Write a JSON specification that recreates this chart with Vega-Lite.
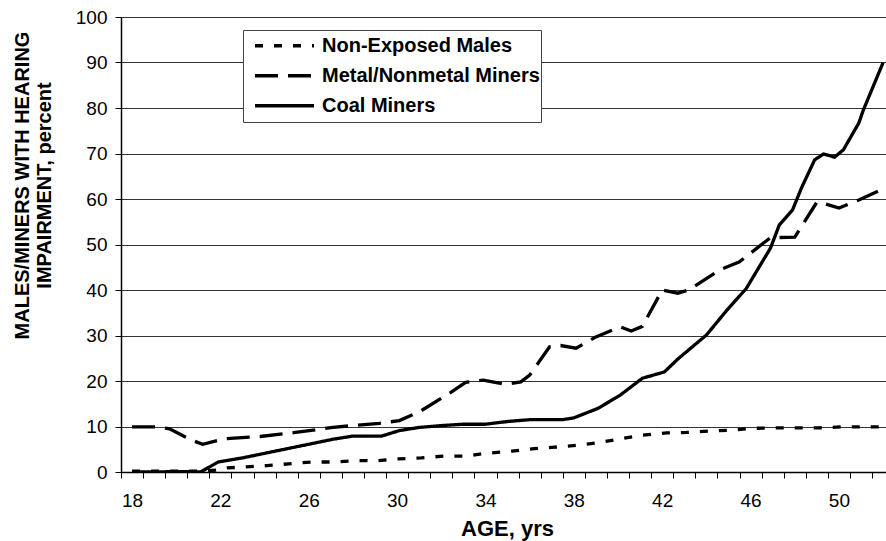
{
  "$schema": "https://vega.github.io/schema/vega-lite/v6.json",
  "autosize": {"type": "none"},
  "padding": {"left": 121, "top": 17, "right": 0, "bottom": 69},
  "width": 765,
  "height": 455,
  "background": "white",
  "config": {
    "view": {"stroke": null},
    "font": "Liberation Sans"
  },
  "data": {
    "values": [
      {"series": "Non-Exposed Males", "age": 18, "pct": 0.2},
      {"series": "Non-Exposed Males", "age": 19, "pct": 0.2},
      {"series": "Non-Exposed Males", "age": 20, "pct": 0.2},
      {"series": "Non-Exposed Males", "age": 21, "pct": 0.2},
      {"series": "Non-Exposed Males", "age": 21.8, "pct": 0.4},
      {"series": "Non-Exposed Males", "age": 22.3, "pct": 0.9},
      {"series": "Non-Exposed Males", "age": 23.1, "pct": 1.1},
      {"series": "Non-Exposed Males", "age": 24.1, "pct": 1.4},
      {"series": "Non-Exposed Males", "age": 25.1, "pct": 1.8},
      {"series": "Non-Exposed Males", "age": 26.1, "pct": 2.2},
      {"series": "Non-Exposed Males", "age": 27.1, "pct": 2.2},
      {"series": "Non-Exposed Males", "age": 28.1, "pct": 2.5},
      {"series": "Non-Exposed Males", "age": 29.1, "pct": 2.5},
      {"series": "Non-Exposed Males", "age": 30.1, "pct": 2.9},
      {"series": "Non-Exposed Males", "age": 31.1, "pct": 3.1},
      {"series": "Non-Exposed Males", "age": 32.1, "pct": 3.5},
      {"series": "Non-Exposed Males", "age": 33.1, "pct": 3.5},
      {"series": "Non-Exposed Males", "age": 34, "pct": 4.1},
      {"series": "Non-Exposed Males", "age": 35.2, "pct": 4.6},
      {"series": "Non-Exposed Males", "age": 36.1, "pct": 5.1},
      {"series": "Non-Exposed Males", "age": 37, "pct": 5.4},
      {"series": "Non-Exposed Males", "age": 38.2, "pct": 5.9},
      {"series": "Non-Exposed Males", "age": 39.2, "pct": 6.5},
      {"series": "Non-Exposed Males", "age": 40.2, "pct": 7.4},
      {"series": "Non-Exposed Males", "age": 41.1, "pct": 8.1},
      {"series": "Non-Exposed Males", "age": 42.2, "pct": 8.6},
      {"series": "Non-Exposed Males", "age": 43.1, "pct": 8.7},
      {"series": "Non-Exposed Males", "age": 44.2, "pct": 9.0},
      {"series": "Non-Exposed Males", "age": 45.2, "pct": 9.2},
      {"series": "Non-Exposed Males", "age": 46.1, "pct": 9.6},
      {"series": "Non-Exposed Males", "age": 47.2, "pct": 9.7},
      {"series": "Non-Exposed Males", "age": 49.1, "pct": 9.7},
      {"series": "Non-Exposed Males", "age": 50.1, "pct": 9.9},
      {"series": "Non-Exposed Males", "age": 52, "pct": 9.9},
      {"series": "Metal/Nonmetal Miners", "age": 18, "pct": 9.9},
      {"series": "Metal/Nonmetal Miners", "age": 19.1, "pct": 9.9},
      {"series": "Metal/Nonmetal Miners", "age": 19.7, "pct": 9.5},
      {"series": "Metal/Nonmetal Miners", "age": 20.7, "pct": 7.0},
      {"series": "Metal/Nonmetal Miners", "age": 21.2, "pct": 6.1},
      {"series": "Metal/Nonmetal Miners", "age": 22.2, "pct": 7.3},
      {"series": "Metal/Nonmetal Miners", "age": 22.8, "pct": 7.5},
      {"series": "Metal/Nonmetal Miners", "age": 23.8, "pct": 7.8},
      {"series": "Metal/Nonmetal Miners", "age": 25.4, "pct": 8.7},
      {"series": "Metal/Nonmetal Miners", "age": 27.1, "pct": 9.8},
      {"series": "Metal/Nonmetal Miners", "age": 28.2, "pct": 10.3},
      {"series": "Metal/Nonmetal Miners", "age": 29.2, "pct": 10.7},
      {"series": "Metal/Nonmetal Miners", "age": 30.1, "pct": 11.3},
      {"series": "Metal/Nonmetal Miners", "age": 31, "pct": 13.2},
      {"series": "Metal/Nonmetal Miners", "age": 32.4, "pct": 17.4},
      {"series": "Metal/Nonmetal Miners", "age": 33.1, "pct": 19.7},
      {"series": "Metal/Nonmetal Miners", "age": 33.9, "pct": 20.2},
      {"series": "Metal/Nonmetal Miners", "age": 34.9, "pct": 19.3},
      {"series": "Metal/Nonmetal Miners", "age": 35.6, "pct": 19.8},
      {"series": "Metal/Nonmetal Miners", "age": 36, "pct": 21.3},
      {"series": "Metal/Nonmetal Miners", "age": 36.9, "pct": 27.5},
      {"series": "Metal/Nonmetal Miners", "age": 37.4, "pct": 27.8},
      {"series": "Metal/Nonmetal Miners", "age": 38.1, "pct": 27.2},
      {"series": "Metal/Nonmetal Miners", "age": 39, "pct": 29.7},
      {"series": "Metal/Nonmetal Miners", "age": 40.1, "pct": 31.9},
      {"series": "Metal/Nonmetal Miners", "age": 40.6, "pct": 31.0},
      {"series": "Metal/Nonmetal Miners", "age": 41.1, "pct": 32.0},
      {"series": "Metal/Nonmetal Miners", "age": 42, "pct": 40.0},
      {"series": "Metal/Nonmetal Miners", "age": 42.7, "pct": 39.3},
      {"series": "Metal/Nonmetal Miners", "age": 43.2, "pct": 40.0},
      {"series": "Metal/Nonmetal Miners", "age": 44.6, "pct": 44.4},
      {"series": "Metal/Nonmetal Miners", "age": 45.5, "pct": 46.2},
      {"series": "Metal/Nonmetal Miners", "age": 46.9, "pct": 51.5},
      {"series": "Metal/Nonmetal Miners", "age": 48, "pct": 51.6},
      {"series": "Metal/Nonmetal Miners", "age": 49, "pct": 59.3},
      {"series": "Metal/Nonmetal Miners", "age": 49.4, "pct": 58.9},
      {"series": "Metal/Nonmetal Miners", "age": 50, "pct": 58.0},
      {"series": "Metal/Nonmetal Miners", "age": 50.9, "pct": 59.8},
      {"series": "Metal/Nonmetal Miners", "age": 52, "pct": 62.2},
      {"series": "Coal Miners", "age": 18, "pct": 0},
      {"series": "Coal Miners", "age": 19, "pct": 0},
      {"series": "Coal Miners", "age": 20, "pct": 0.1},
      {"series": "Coal Miners", "age": 21.1, "pct": 0},
      {"series": "Coal Miners", "age": 21.9, "pct": 2.2},
      {"series": "Coal Miners", "age": 23, "pct": 3.1},
      {"series": "Coal Miners", "age": 24, "pct": 4.1},
      {"series": "Coal Miners", "age": 25, "pct": 5.1},
      {"series": "Coal Miners", "age": 26, "pct": 6.1},
      {"series": "Coal Miners", "age": 27.1, "pct": 7.2},
      {"series": "Coal Miners", "age": 28, "pct": 7.9},
      {"series": "Coal Miners", "age": 29.3, "pct": 7.9},
      {"series": "Coal Miners", "age": 30.1, "pct": 9.1},
      {"series": "Coal Miners", "age": 31, "pct": 9.8},
      {"series": "Coal Miners", "age": 32, "pct": 10.2},
      {"series": "Coal Miners", "age": 33, "pct": 10.5},
      {"series": "Coal Miners", "age": 34, "pct": 10.5},
      {"series": "Coal Miners", "age": 35, "pct": 11.1},
      {"series": "Coal Miners", "age": 36, "pct": 11.5},
      {"series": "Coal Miners", "age": 37.5, "pct": 11.5},
      {"series": "Coal Miners", "age": 38, "pct": 11.9},
      {"series": "Coal Miners", "age": 39.1, "pct": 14.0},
      {"series": "Coal Miners", "age": 40.1, "pct": 16.9},
      {"series": "Coal Miners", "age": 41.1, "pct": 20.6},
      {"series": "Coal Miners", "age": 42.1, "pct": 22.0},
      {"series": "Coal Miners", "age": 42.7, "pct": 24.8},
      {"series": "Coal Miners", "age": 44, "pct": 30.1},
      {"series": "Coal Miners", "age": 44.9, "pct": 35.4},
      {"series": "Coal Miners", "age": 45.8, "pct": 40.3},
      {"series": "Coal Miners", "age": 46.9, "pct": 49.2},
      {"series": "Coal Miners", "age": 47.3, "pct": 54.3},
      {"series": "Coal Miners", "age": 47.9, "pct": 57.6},
      {"series": "Coal Miners", "age": 48.3, "pct": 62.4},
      {"series": "Coal Miners", "age": 48.9, "pct": 68.6},
      {"series": "Coal Miners", "age": 49.3, "pct": 69.9},
      {"series": "Coal Miners", "age": 49.8, "pct": 69.2},
      {"series": "Coal Miners", "age": 50.2, "pct": 70.8},
      {"series": "Coal Miners", "age": 50.9, "pct": 76.7},
      {"series": "Coal Miners", "age": 51.1, "pct": 79.5},
      {"series": "Coal Miners", "age": 52, "pct": 90}
    ]
  },
  "mark": {"type": "line", "color": "black", "strokeWidth": 3.3, "clip": true},
  "encoding": {
    "x": {
      "field": "age",
      "type": "quantitative",
      "scale": {"domain": [17.5, 52.13], "nice": false, "zero": false},
      "axis": {
        "title": "AGE, yrs",
        "titleFont": "Liberation Sans",
        "titleFontSize": 22,
        "titleFontWeight": "bold",
        "titleColor": "black",
        "titleX": 386,
        "titleY": 63,
        "titleBaseline": "alphabetic",
        "values": [17.5, 18.5, 19.5, 20.5, 21.5, 22.5, 23.5, 24.5, 25.5, 26.5, 27.5, 28.5, 29.5, 30.5, 31.5, 32.5, 33.5, 34.5, 35.5, 36.5, 37.5, 38.5, 39.5, 40.5, 41.5, 42.5, 43.5, 44.5, 45.5, 46.5, 47.5, 48.5, 49.5, 50.5, 51.5],
        "labelExpr": "(datum.value + 0.5 - 18) % 4 == 0 ? format(datum.value + 0.5, 'd') : ''",
        "labelOffset": 11,
        "labelOverlap": false,
        "labelFontSize": 19,
        "labelColor": "black",
        "labelPadding": 13,
        "labelBaseline": "top",
        "labelAlign": "center",
        "labelFlush": false,
        "tickSize": 6,
        "tickColor": "black",
        "tickWidth": 1,
        "domainColor": "black",
        "domainWidth": 1.5,
        "grid": false
      }
    },
    "y": {
      "field": "pct",
      "type": "quantitative",
      "scale": {"domain": [0, 100], "nice": false},
      "axis": {
        "title": ["MALES/MINERS WITH HEARING", "IMPAIRMENT, percent"],
        "titleFont": "Liberation Sans",
        "titleFontSize": 20,
        "titleFontWeight": "bold",
        "titleColor": "black",
        "titleAngle": -90,
        "titleAlign": "center",
        "titleBaseline": "top",
        "titleLineHeight": 22,
        "titleX": -109,
        "titleY": 168,
        "values": [0, 10, 20, 30, 40, 50, 60, 70, 80, 90, 100],
        "labelFontSize": 19,
        "labelColor": "black",
        "labelPadding": 8,
        "tickSize": 6,
        "tickColor": "black",
        "domainColor": "black",
        "domainWidth": 1.5,
        "grid": true,
        "gridColor": "#333",
        "gridWidth": 1
      }
    },
    "strokeDash": {
      "field": "series",
      "type": "nominal",
      "scale": {
        "domain": ["Non-Exposed Males", "Metal/Nonmetal Miners", "Coal Miners"],
        "range": [[8, 11], [23, 10], [1, 0]]
      },
      "legend": {
        "title": null,
        "orient": "none",
        "legendX": 122,
        "legendY": 13,
        "direction": "vertical",
        "symbolType": "stroke",
        "symbolSize": 3481,
        "symbolStrokeWidth": 3.5,
        "symbolStrokeColor": "black",
        "symbolOffset": 9,
        "clipHeight": 29.5,
        "rowPadding": 0,
        "labelFont": "Liberation Sans",
        "labelFontSize": 20,
        "labelFontWeight": "bold",
        "labelColor": "black",
        "labelOffset": 6,
        "labelLimit": 400,
        "padding": 1,
        "strokeColor": "#444",
        "fillColor": "white"
      }
    }
  }
}
